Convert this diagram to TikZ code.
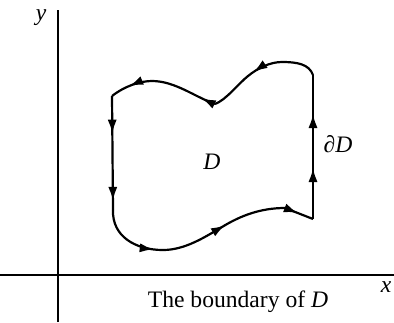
\documentclass[tikz,border=0pt]{standalone}
\usepackage{fontspec}
\setmainfont{Liberation Serif}
\usetikzlibrary{arrows.meta,decorations.markings}
\tikzset{
  axis/.style={line width=0.7pt},
  bdry/.style={line width=1.1pt, line join=round, postaction={decorate}},
  lbl/.style={font=\fontsize{11.8}{14}\selectfont, inner sep=0pt},
  tipA/.tip={Latex[length=7pt,width=4.6pt]},
  tipline/.style={line width=1.1pt, -{tipA}}
}
\begin{document}
\begin{tikzpicture}[x=0.5pt,y=-0.5pt]
\useasboundingbox (0,0) rectangle (394,322);
% axes
\coordinate (yb) at (58,322);
\coordinate (yt) at (58,10);
\coordinate (xl) at (0,275);
\coordinate (xr) at (394,275);
\draw[axis] (yb) -- (yt);
\draw[axis] (xl) -- (xr);
\node[lbl] (ylab) at (41,18) {\textit{y}};
\node[lbl] (xlab) at (386,287) {\textit{x}};
\node[lbl] (cap) at (238,302) {The boundary of \textit{D}};
% corners
\coordinate (A) at (112,96);
\coordinate (B) at (113,210);
\coordinate (C) at (313,219);
\coordinate (R1) at (313,168);
\coordinate (R2) at (313,114);
\coordinate (E) at (313,75);
\coordinate (M) at (215,104);
% left side
\draw[bdry, decoration={markings, mark=at position 0.33 with {\arrow{tipA}}, mark=at position 0.92 with {\arrow{tipA}}}] (A) -- (B);
% bottom
\draw[bdry, decoration={markings, mark=at position 0.27 with {\arrow{tipA}}, mark=at position 0.6 with {\arrow{tipA}}, mark=at position 0.93 with {\arrow{tipA}}}] (B) .. controls (112,236) and (135,250) .. (163,250)
  .. controls (185,250) and (205,237) .. (222,227)
  .. controls (240,216) and (260,208) .. (285,208) -- (C);
% right side
\draw[line width=1.1pt] (C) -- (E);
\draw[tipline] (C) -- (R1);
\draw[tipline] (C) -- (R2);
% top
\draw[bdry, decoration={markings, mark=at position 0.57 with {\arrow{tipA}}}] (E) .. controls (309,64) and (297,62) .. (282,62)
  .. controls (270,62) and (258,68) .. (248,76)
  .. controls (238,84) and (226,100) .. (M);
\draw[bdry, decoration={markings, mark=at position 0.13 with {\arrow{tipA}}, mark=at position 0.82 with {\arrow{tipA}}}] (M) .. controls (195,97) and (175,81) .. (152,81)
  .. controls (140,81) and (125,86) .. (A);
% labels
\node[lbl] (D) at (212,162) {\textit{D}};
\node[lbl] (dD) at (338,144) {∂\textit{D}};
\end{tikzpicture}
\end{document}
